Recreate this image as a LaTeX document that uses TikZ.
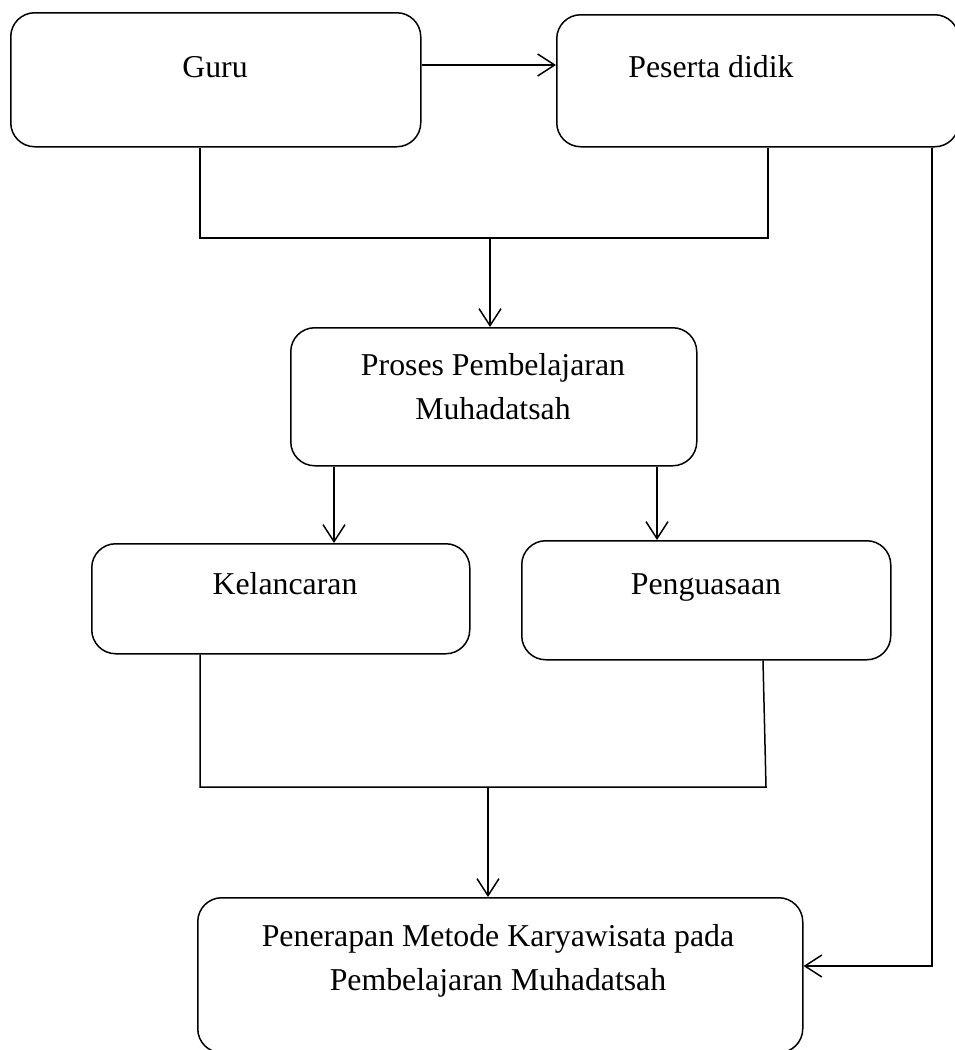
\documentclass[tikz,border=0pt]{standalone}
\usepackage{fontspec}
\setmainfont{Liberation Serif}
\usetikzlibrary{arrows.meta, positioning, calc}

\tikzset{
    box/.style={draw, rounded corners=24pt, line width=1.5pt, inner sep=0pt, anchor=north west},
    txt/.style={font=\fontsize{31.8pt}{44pt}\selectfont, align=center, inner sep=0pt},
    line/.style={line width=1.5pt},
    arr/.style={line width=1.5pt, -{Straight Barb[length=17pt, width=22pt]}}
}

\begin{document}
\begin{tikzpicture}[x=1pt, y=-1pt]
    \useasboundingbox (0,0) rectangle (954,1050);

    % boxes
    \node[box, minimum width=410pt, minimum height=134pt] (guru) at (10,12) {};
    \node[box, minimum width=402pt, minimum height=132pt] (peserta) at (556,14) {};
    \node[box, minimum width=406pt, minimum height=138pt] (proses) at (290,327) {};
    \node[box, minimum width=378pt, minimum height=110pt] (kelancaran) at (91,543) {};
    \node[box, minimum width=369pt, minimum height=119pt] (penguasaan) at (521,540) {};
    \node[box, minimum width=605pt, minimum height=155pt] (penerapan) at (197,897) {};

    % texts
    \node[txt, anchor=base] (tguru) at (215,77) {Guru};
    \node[txt, anchor=base] (tpeserta) at (711,77) {Peserta didik};
    \node[txt, anchor=north] (tproses) at (493,353) {Proses Pembelajaran\\Muhadatsah};
    \node[txt, anchor=base] (tkelancaran) at (285,594) {Kelancaran};
    \node[txt, anchor=base] (tpenguasaan) at (706,594) {Penguasaan};
    \node[txt, anchor=north] (tpenerapan) at (498,924) {Penerapan Metode Karyawisata pada\\Pembelajaran Muhadatsah};

    % connectors
    \coordinate (a1) at (0,65);
    \coordinate (j1) at (490,238);
    \coordinate (j2) at (488,787);
    \coordinate (g1) at ([xshift=190pt]guru.south west);
    \coordinate (s1) at ([xshift=212pt]peserta.south west);
    \coordinate (s2) at ([xshift=376pt]peserta.south west);
    \coordinate (p1) at ([xshift=44pt]proses.south west);
    \coordinate (p2) at ([xshift=367pt]proses.south west);
    \coordinate (k1) at ([xshift=109pt]kelancaran.south west);
    \coordinate (u1) at ([xshift=242pt]penguasaan.south west);
    \coordinate (u2) at (766,787);
    \coordinate (e1) at (0,966);

    \draw[arr] (guru.east |- a1) -- (peserta.west |- a1);
    \draw[line] (g1) |- (s1 |- j1) -- (s1);
    \draw[arr] (j1) -- (j1 |- proses.north);
    \draw[arr] (s2) |- (penerapan.east |- e1);
    \draw[arr] (p1) -- (p1 |- kelancaran.north);
    \draw[arr] (p2) -- (p2 |- penguasaan.north);
    \draw[line] (k1) |- (u2) -- (u1);
    \draw[arr] (j2) -- (j2 |- penerapan.north);
\end{tikzpicture}
\end{document}
